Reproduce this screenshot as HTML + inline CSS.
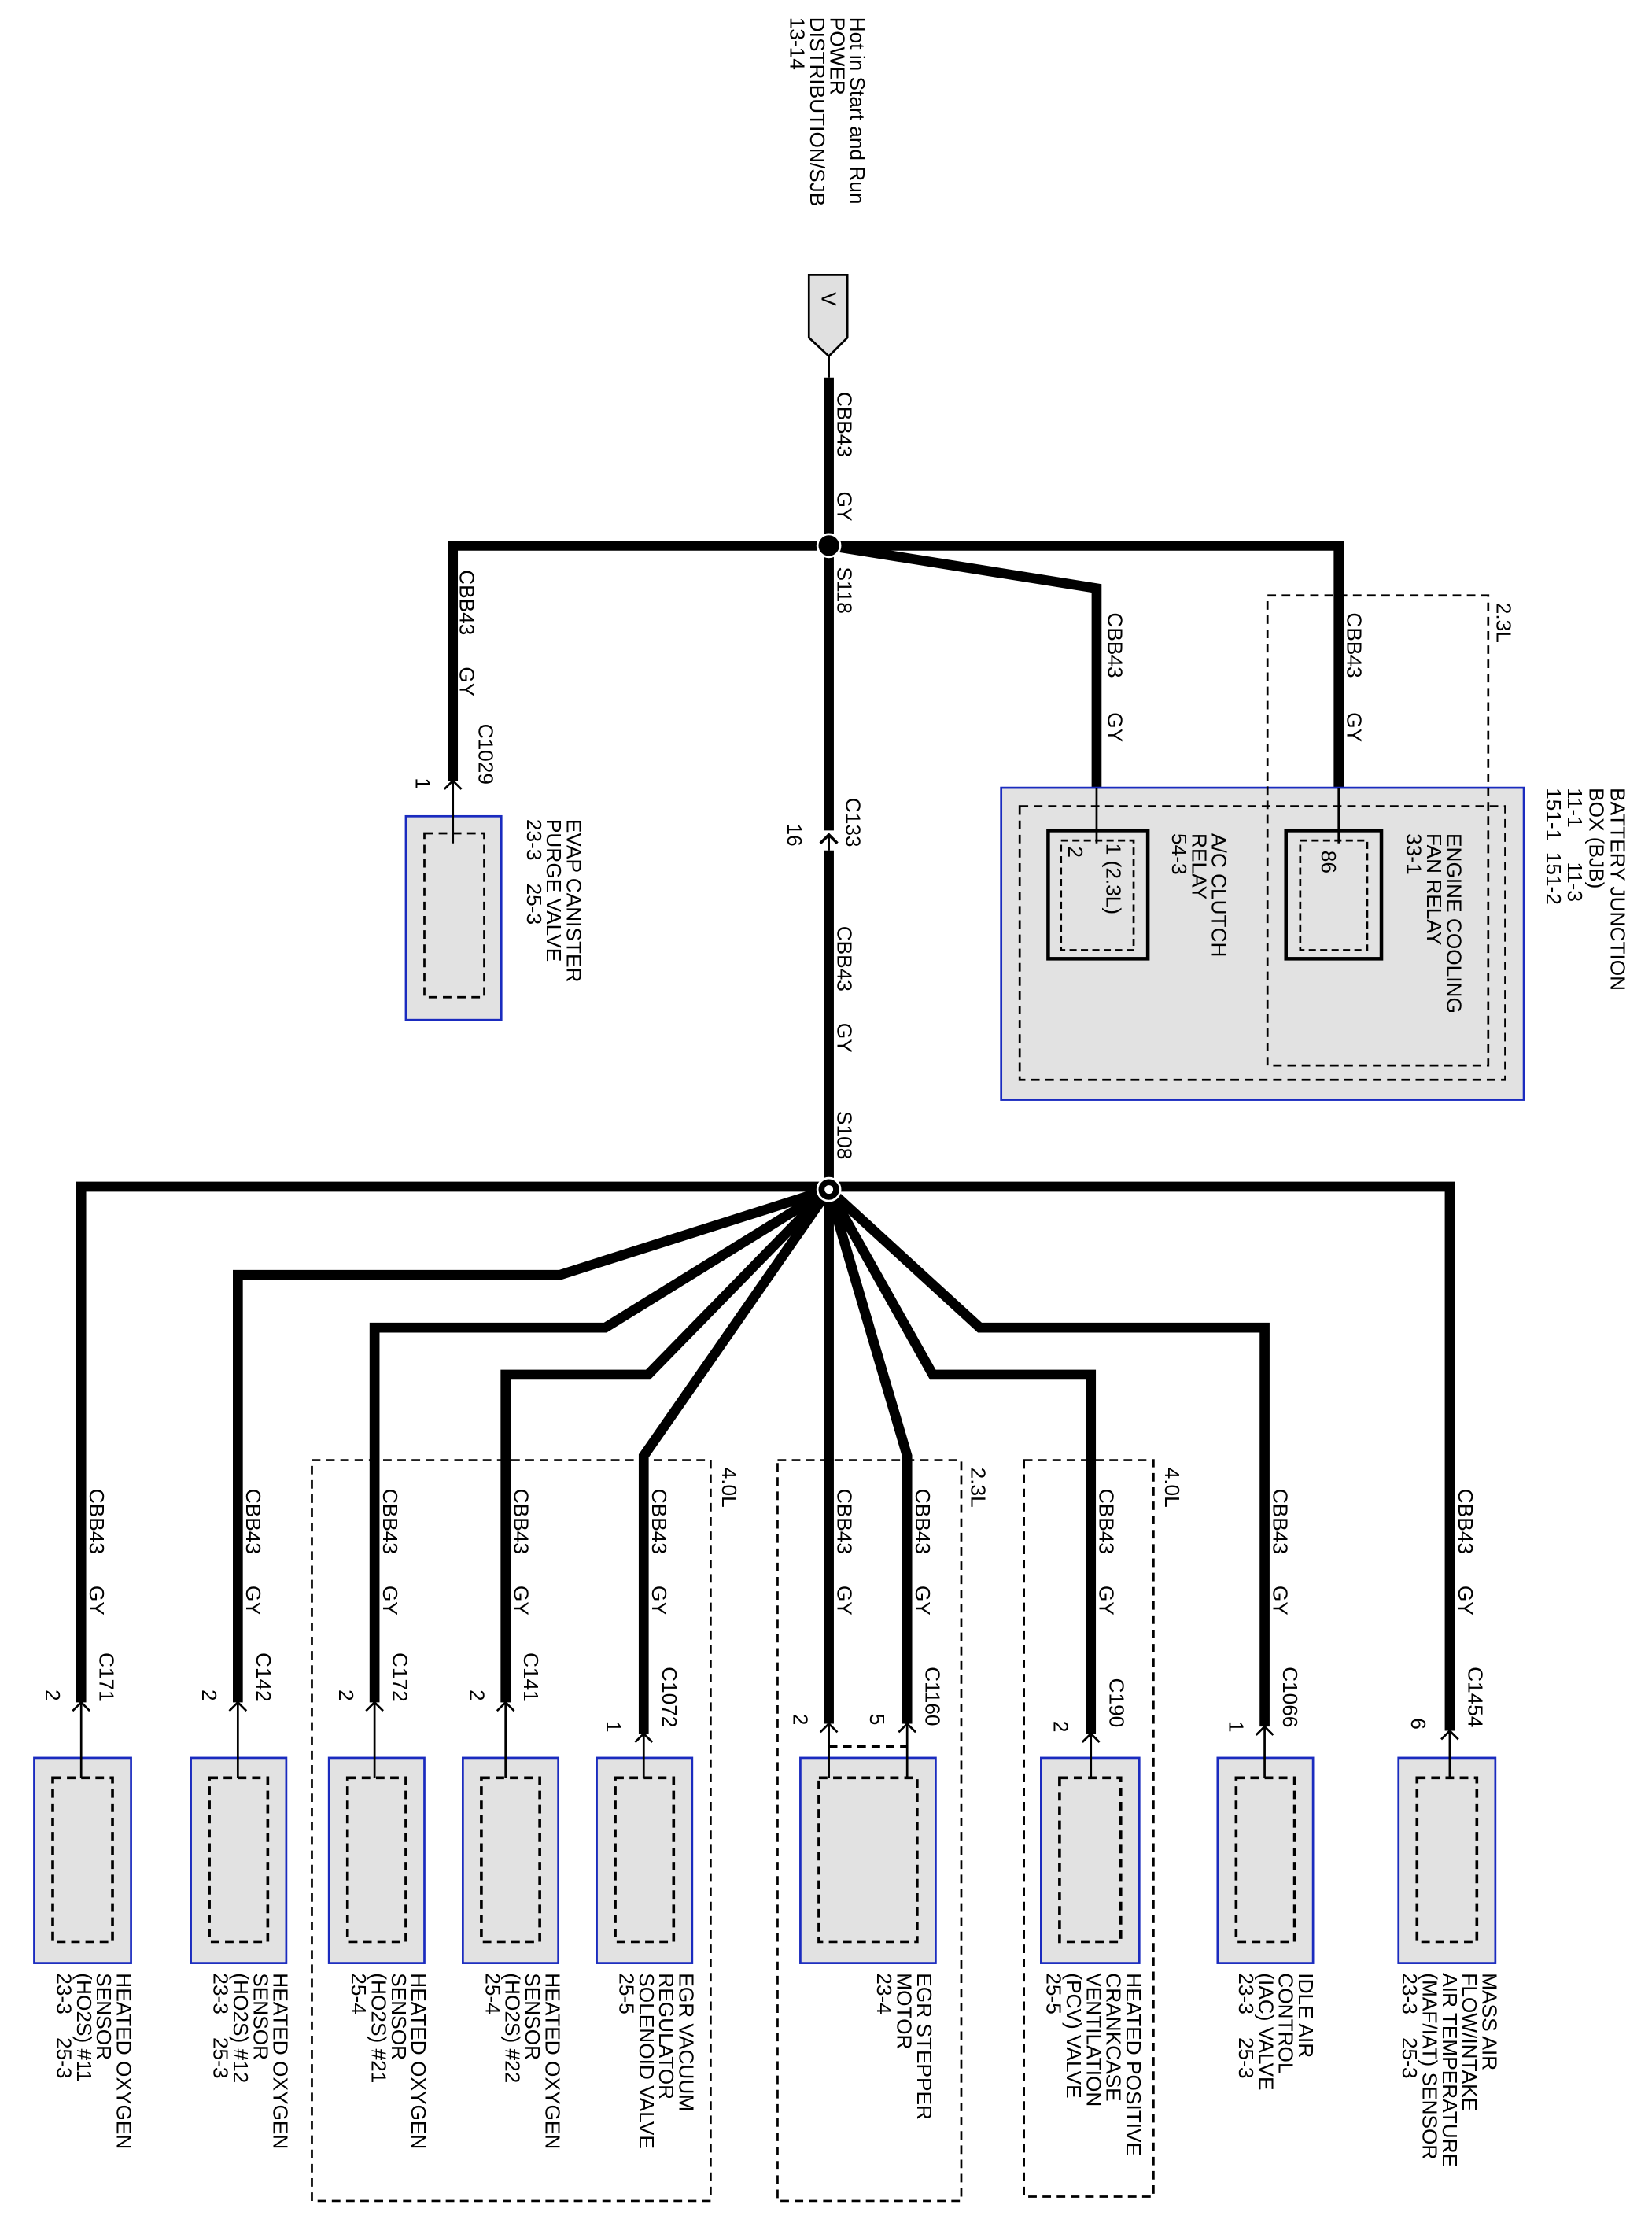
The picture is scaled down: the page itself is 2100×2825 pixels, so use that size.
<!DOCTYPE html>
<html><head><meta charset="utf-8"><style>
html,body{margin:0;padding:0;background:#fff;}
svg{display:block;}
text{font-family:"Liberation Sans",Arial,sans-serif;font-size:14.5px;fill:#000;white-space:pre;}
</style></head><body>
<svg width="2100" height="2825" viewBox="0 0 1160 1560.5" xmlns="http://www.w3.org/2000/svg" xml:space="preserve">
<g fill="none" stroke="#000" stroke-width="7" stroke-linejoin="miter">
<line x1="582" y1="265" x2="582" y2="583"/>
<line x1="582" y1="597" x2="582" y2="835"/>
<polyline points="582,383 318,383 318,548"/>
<polyline points="582,383 940,383 940,553"/>
<polyline points="582,383 770,413 770,553"/>
<polyline points="582,833 57,833 57,1195"/>
<polyline points="582,833 1018,833 1018,1215"/>
<polyline points="582,835 393,895 167,895 167,1195"/>
<polyline points="582,835 425,932 263,932 263,1195"/>
<polyline points="582,835 455,965 355,965 355,1195"/>
<polyline points="582,835 452,1022 452,1217"/>
<line x1="582" y1="835" x2="582" y2="1210"/>
<polyline points="582,835 637,1022 637,1210"/>
<polyline points="582,835 655,965 766,965 766,1217"/>
<polyline points="582,835 688,932 888,932 888,1212"/>
</g>
<circle cx="582" cy="383" r="8" fill="#000" stroke="#fff" stroke-width="1.5"/>
<circle cx="582" cy="835" r="8" fill="#000" stroke="#fff" stroke-width="1.5"/>
<circle cx="582" cy="835" r="3" fill="#fff"/>
<polygon points="568,193 595,193 595,237 582,250 568,237" fill="#e0e0e0" stroke="#000" stroke-width="1.5"/>
<line x1="582" y1="250" x2="582" y2="265" stroke="#000" stroke-width="1.5"/>
<text transform="translate(577,205) rotate(90)">V</text>
<path d="M576,592 L582,586 L588,592" fill="none" stroke="#000" stroke-width="2"/>
<line x1="582" y1="586" x2="582" y2="597" stroke="#000" stroke-width="1.5"/>
<g stroke-width="1.5">
<rect x="703" y="553" width="367" height="219" fill="#e2e2e2" stroke="#1a2bbf"/>
<rect x="716" y="566" width="341" height="192" fill="none" stroke="#000" stroke-dasharray="6,4"/>
<rect x="890" y="418" width="155" height="330" fill="none" stroke="#000" stroke-dasharray="6,4"/>
<rect x="903" y="583" width="67" height="90" fill="none" stroke="#000" stroke-width="2.5"/>
<rect x="913" y="590" width="47" height="77" fill="none" stroke="#000" stroke-dasharray="5,3"/>
<rect x="736" y="583" width="70" height="90" fill="none" stroke="#000" stroke-width="2.5"/>
<rect x="745" y="590" width="51" height="77" fill="none" stroke="#000" stroke-dasharray="5,3"/>
<line x1="940" y1="553" x2="940" y2="592" stroke="#000"/>
<line x1="770" y1="553" x2="770" y2="592" stroke="#000"/>
<rect x="285" y="573" width="67" height="143" fill="#e2e2e2" stroke="#1a2bbf"/>
<rect x="298" y="585" width="42" height="115" fill="none" stroke="#000" stroke-dasharray="6,4"/>
<rect x="219" y="1025" width="280" height="520" fill="none" stroke="#000" stroke-dasharray="6,4"/>
<rect x="546" y="1025" width="129" height="520" fill="none" stroke="#000" stroke-dasharray="6,4"/>
<rect x="719" y="1025" width="91" height="517" fill="none" stroke="#000" stroke-dasharray="6,4"/>
</g>
<g stroke-width="1.5" stroke="#000">
<rect x="24" y="1234" width="68" height="144" fill="#e2e2e2" stroke="#1a2bbf"/>
<rect x="134" y="1234" width="67" height="144" fill="#e2e2e2" stroke="#1a2bbf"/>
<rect x="231" y="1234" width="67" height="144" fill="#e2e2e2" stroke="#1a2bbf"/>
<rect x="325" y="1234" width="67" height="144" fill="#e2e2e2" stroke="#1a2bbf"/>
<rect x="419" y="1234" width="67" height="144" fill="#e2e2e2" stroke="#1a2bbf"/>
<rect x="562" y="1234" width="95" height="144" fill="#e2e2e2" stroke="#1a2bbf"/>
<rect x="731" y="1234" width="69" height="144" fill="#e2e2e2" stroke="#1a2bbf"/>
<rect x="855" y="1234" width="67" height="144" fill="#e2e2e2" stroke="#1a2bbf"/>
<rect x="982" y="1234" width="68" height="144" fill="#e2e2e2" stroke="#1a2bbf"/>
<g fill="none" stroke-dasharray="6,4" stroke-width="2">
<rect x="37" y="1248" width="42" height="115"/>
<rect x="147" y="1248" width="41" height="115"/>
<rect x="244" y="1248" width="41" height="115"/>
<rect x="338" y="1248" width="41" height="115"/>
<rect x="432" y="1248" width="41" height="115"/>
<rect x="575" y="1248" width="69" height="115"/>
<rect x="744" y="1248" width="43" height="115"/>
<rect x="868" y="1248" width="41" height="115"/>
<rect x="995" y="1248" width="42" height="115"/>
<line x1="582" y1="1226" x2="637" y2="1226"/>
</g>
<g fill="none">
<path d="M312,554 L318,548 L324,554 M318,548 L318,592"/>
<path d="M51,1201 L57,1195 L63,1201 M57,1195 L57,1248"/>
<path d="M161,1201 L167,1195 L173,1201 M167,1195 L167,1248"/>
<path d="M257,1201 L263,1195 L269,1201 M263,1195 L263,1248"/>
<path d="M349,1201 L355,1195 L361,1201 M355,1195 L355,1248"/>
<path d="M446,1223 L452,1217 L458,1223 M452,1217 L452,1248"/>
<path d="M576,1216 L582,1210 L588,1216 M582,1210 L582,1248"/>
<path d="M631,1216 L637,1210 L643,1216 M637,1210 L637,1248"/>
<path d="M760,1223 L766,1217 L772,1223 M766,1217 L766,1248"/>
<path d="M882,1218 L888,1212 L894,1218 M888,1212 L888,1248"/>
<path d="M1012,1221 L1018,1215 L1024,1221 M1018,1215 L1018,1248"/>
</g>
</g>
<g>
<text transform="translate(597,12) rotate(90)">Hot in Start and Run</text>
<text transform="translate(583,12) rotate(90)">POWER</text>
<text transform="translate(569,12) rotate(90)">DISTRIBUTION/SJB</text>
<text transform="translate(555,12) rotate(90)">13-14</text>
<text transform="translate(588,275) rotate(90)">CBB43</text>
<text transform="translate(588,345) rotate(90)">GY</text>
<text transform="translate(588,398) rotate(90)">S118</text>
<text transform="translate(594,560) rotate(90)">C133</text>
<text transform="translate(553,578) rotate(90)">16</text>
<text transform="translate(588,650) rotate(90)">CBB43</text>
<text transform="translate(588,718) rotate(90)">GY</text>
<text transform="translate(588,780) rotate(90)">S108</text>
<text transform="translate(323,400) rotate(90)">CBB43</text>
<text transform="translate(323,468) rotate(90)">GY</text>
<text transform="translate(336,508) rotate(90)">C1029</text>
<text transform="translate(292,546) rotate(90)">1</text>
<text transform="translate(398,575) rotate(90)">EVAP CANISTER</text>
<text transform="translate(384,575) rotate(90)">PURGE VALVE</text>
<text transform="translate(370,575) rotate(90)">23-3    25-3</text>
<text transform="translate(778,430) rotate(90)">CBB43</text>
<text transform="translate(778,500) rotate(90)">GY</text>
<text transform="translate(946,430) rotate(90)">CBB43</text>
<text transform="translate(946,500) rotate(90)">GY</text>
<text transform="translate(1051,423) rotate(90)">2.3L</text>
<text transform="translate(1131,553) rotate(90)">BATTERY JUNCTION</text>
<text transform="translate(1116,553) rotate(90)">BOX (BJB)</text>
<text transform="translate(1101,553) rotate(90)">11-1      11-3</text>
<text transform="translate(1086,553) rotate(90)">151-1  151-2</text>
<text transform="translate(1016,585) rotate(90)">ENGINE COOLING</text>
<text transform="translate(1002,585) rotate(90)">FAN RELAY</text>
<text transform="translate(988,585) rotate(90)">33-1</text>
<text transform="translate(928,597) rotate(90)">86</text>
<text transform="translate(851,585) rotate(90)">A/C CLUTCH</text>
<text transform="translate(837,585) rotate(90)">RELAY</text>
<text transform="translate(823,585) rotate(90)">54-3</text>
<text transform="translate(777,592) rotate(90)">1 (2.3L)</text>
<text transform="translate(750,594) rotate(90)">2</text>
<text transform="translate(507,1030) rotate(90)">4.0L</text>
<text transform="translate(682,1030) rotate(90)">2.3L</text>
<text transform="translate(818,1030) rotate(90)">4.0L</text>
</g>
<g>
<text transform="translate(63,1045) rotate(90)">CBB43</text><text transform="translate(63,1113) rotate(90)">GY</text>
<text transform="translate(173,1045) rotate(90)">CBB43</text><text transform="translate(173,1113) rotate(90)">GY</text>
<text transform="translate(269,1045) rotate(90)">CBB43</text><text transform="translate(269,1113) rotate(90)">GY</text>
<text transform="translate(361,1045) rotate(90)">CBB43</text><text transform="translate(361,1113) rotate(90)">GY</text>
<text transform="translate(458,1045) rotate(90)">CBB43</text><text transform="translate(458,1113) rotate(90)">GY</text>
<text transform="translate(588,1045) rotate(90)">CBB43</text><text transform="translate(588,1113) rotate(90)">GY</text>
<text transform="translate(643,1045) rotate(90)">CBB43</text><text transform="translate(643,1113) rotate(90)">GY</text>
<text transform="translate(772,1045) rotate(90)">CBB43</text><text transform="translate(772,1113) rotate(90)">GY</text>
<text transform="translate(894,1045) rotate(90)">CBB43</text><text transform="translate(894,1113) rotate(90)">GY</text>
<text transform="translate(1024,1045) rotate(90)">CBB43</text><text transform="translate(1024,1113) rotate(90)">GY</text>
<text transform="translate(70,1160) rotate(90)">C171</text><text transform="translate(32,1186) rotate(90)">2</text>
<text transform="translate(180,1160) rotate(90)">C142</text><text transform="translate(142,1186) rotate(90)">2</text>
<text transform="translate(276,1160) rotate(90)">C172</text><text transform="translate(238,1186) rotate(90)">2</text>
<text transform="translate(368,1160) rotate(90)">C141</text><text transform="translate(330,1186) rotate(90)">2</text>
<text transform="translate(465,1170) rotate(90)">C1072</text><text transform="translate(426,1208) rotate(90)">1</text>
<text transform="translate(557,1203) rotate(90)">2</text>
<text transform="translate(650,1170) rotate(90)">C1160</text><text transform="translate(611,1203) rotate(90)">5</text>
<text transform="translate(779,1178) rotate(90)">C190</text><text transform="translate(740,1208) rotate(90)">2</text>
<text transform="translate(901,1170) rotate(90)">C1066</text><text transform="translate(863,1208) rotate(90)">1</text>
<text transform="translate(1031,1170) rotate(90)">C1454</text><text transform="translate(991,1206) rotate(90)">6</text>
</g>
<g>
<text transform="translate(82,1385) rotate(90)">HEATED OXYGEN</text>
<text transform="translate(68,1385) rotate(90)">SENSOR</text>
<text transform="translate(54,1385) rotate(90)">(HO2S) #11</text>
<text transform="translate(40,1385) rotate(90)">23-3    25-3</text>
<text transform="translate(192,1385) rotate(90)">HEATED OXYGEN</text>
<text transform="translate(178,1385) rotate(90)">SENSOR</text>
<text transform="translate(164,1385) rotate(90)">(HO2S) #12</text>
<text transform="translate(150,1385) rotate(90)">23-3    25-3</text>
<text transform="translate(289,1385) rotate(90)">HEATED OXYGEN</text>
<text transform="translate(275,1385) rotate(90)">SENSOR</text>
<text transform="translate(261,1385) rotate(90)">(HO2S) #21</text>
<text transform="translate(247,1385) rotate(90)">25-4</text>
<text transform="translate(383,1385) rotate(90)">HEATED OXYGEN</text>
<text transform="translate(369,1385) rotate(90)">SENSOR</text>
<text transform="translate(355,1385) rotate(90)">(HO2S) #22</text>
<text transform="translate(341,1385) rotate(90)">25-4</text>
<text transform="translate(477,1385) rotate(90)">EGR VACUUM</text>
<text transform="translate(463,1385) rotate(90)">REGULATOR</text>
<text transform="translate(449,1385) rotate(90)">SOLENOID VALVE</text>
<text transform="translate(435,1385) rotate(90)">25-5</text>
<text transform="translate(644,1385) rotate(90)">EGR STEPPER</text>
<text transform="translate(630,1385) rotate(90)">MOTOR</text>
<text transform="translate(616,1385) rotate(90)">23-4</text>
<text transform="translate(791,1385) rotate(90)">HEATED POSITIVE</text>
<text transform="translate(777,1385) rotate(90)">CRANKCASE</text>
<text transform="translate(763,1385) rotate(90)">VENTILATION</text>
<text transform="translate(749,1385) rotate(90)">(PCV) VALVE</text>
<text transform="translate(735,1385) rotate(90)">25-5</text>
<text transform="translate(912,1385) rotate(90)">IDLE AIR</text>
<text transform="translate(898,1385) rotate(90)">CONTROL</text>
<text transform="translate(884,1385) rotate(90)">(IAC) VALVE</text>
<text transform="translate(870,1385) rotate(90)">23-3    25-3</text>
<text transform="translate(1041,1385) rotate(90)">MASS AIR</text>
<text transform="translate(1027,1385) rotate(90)">FLOW/INTAKE</text>
<text transform="translate(1013,1385) rotate(90)">AIR TEMPERATURE</text>
<text transform="translate(999,1385) rotate(90)">(MAF/IAT) SENSOR</text>
<text transform="translate(985,1385) rotate(90)">23-3    25-3</text>
</g>
</svg>
</body></html>
